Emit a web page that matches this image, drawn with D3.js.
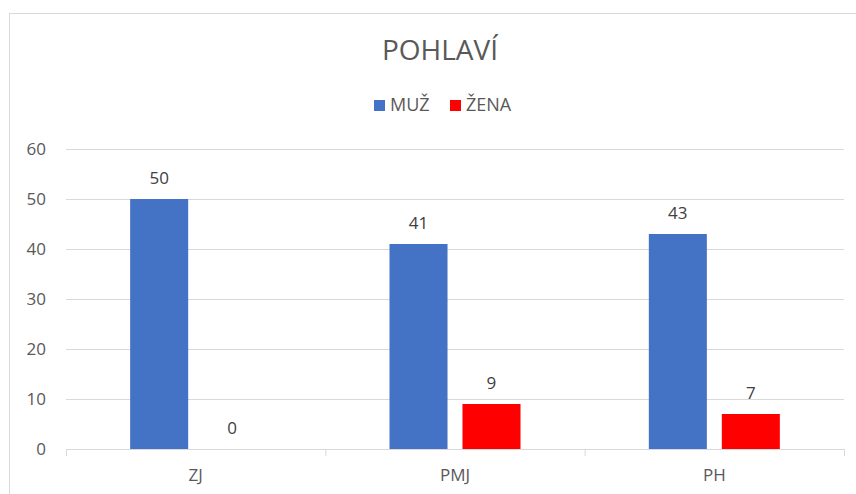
<!DOCTYPE html>
<html>
<head>
<meta charset="utf-8">
<script src="https://cdn.jsdelivr.net/npm/d3@7"></script>
<style>
  body { margin: 0; background: #fff; }
  text { font-family: "Open Sans", sans-serif; }
</style>
</head>
<body>
<svg id="chart" width="856" height="494"></svg>
<script>
// chart data
var categories = ["ZJ", "PMJ", "PH"];
var series = ["MUŽ", "ŽENA"];
var muz = [50, 41, 43];
var zena = [0, 9, 7];
var yTicks = [0, 10, 20, 30, 40, 50, 60];
var colors = ["#4472C4", "#FF0000"];

var data = categories.map(function (c, i) {
    return { cat: c, values: [muz[i], zena[i]] };
});

var svg = d3.select("#chart");

// outer frame
svg.append("rect")
    .attr("x", 9.5).attr("y", 13.5)
    .attr("width", 880).attr("height", 520)
    .attr("fill", "#fff")
    .attr("stroke", "#d9d9d9");

var plotLeft = 66, plotRight = 844, plotTop = 149, plotBottom = 449;

var x0 = d3.scaleBand().domain(categories).range([plotLeft, plotRight]).padding(0);
var x1 = d3.scaleBand().domain(series).range([0, x0.bandwidth()])
    .paddingInner(0.205).paddingOuter(0.879);
var y = d3.scaleLinear().domain([0, 60]).range([plotBottom, plotTop]);

// gridlines
svg.append("g").selectAll("line")
    .data(yTicks.slice(1))
    .enter().append("line")
    .attr("x1", plotLeft).attr("x2", plotRight)
    .attr("y1", function (d) { return y(d) + 0.5; })
    .attr("y2", function (d) { return y(d) + 0.5; })
    .attr("stroke", "#d9d9d9");

// y labels
svg.append("g").selectAll("text")
    .data(yTicks)
    .enter().append("text")
    .attr("x", 46).attr("y", function (d) { return y(d); })
    .attr("dy", "0.35em")
    .attr("text-anchor", "end")
    .attr("font-size", 17)
    .attr("fill", "#595959")
    .text(function (d) { return d; });

// bars
var grp = svg.append("g").selectAll("g")
    .data(data)
    .enter().append("g")
    .attr("transform", function (d) { return "translate(" + x0(d.cat) + ",0)"; });

grp.selectAll("rect")
    .data(function (d) { return d.values; })
    .enter().append("rect")
    .attr("x", function (d, i) { return x1(series[i]); })
    .attr("y", function (d) { return y(d); })
    .attr("width", x1.bandwidth())
    .attr("height", function (d) { return plotBottom - y(d); })
    .attr("fill", function (d, i) { return colors[i]; });

grp.selectAll("text")
    .data(function (d) { return d.values; })
    .enter().append("text")
    .attr("x", function (d, i) { return x1(series[i]) + x1.bandwidth() / 2; })
    .attr("y", function (d) { return y(d) - 15; })
    .attr("text-anchor", "middle")
    .attr("font-size", 17)
    .attr("fill", "#404040")
    .text(function (d) { return d; });

// x axis
svg.append("line")
    .attr("x1", plotLeft).attr("x2", plotRight)
    .attr("y1", plotBottom + 0.5).attr("y2", plotBottom + 0.5)
    .attr("stroke", "#d9d9d9");
svg.append("g").selectAll("line")
    .data(categories.concat(["end"]))
    .enter().append("line")
    .attr("x1", function (d, i) { return plotLeft + i * x0.bandwidth() + 0.5; })
    .attr("x2", function (d, i) { return plotLeft + i * x0.bandwidth() + 0.5; })
    .attr("y1", plotBottom).attr("y2", plotBottom + 7)
    .attr("stroke", "#d9d9d9");
svg.append("g").selectAll("text")
    .data(categories)
    .enter().append("text")
    .attr("x", function (d) { return x0(d) + x0.bandwidth() / 2; })
    .attr("y", 481)
    .attr("text-anchor", "middle")
    .attr("font-size", 17)
    .attr("fill", "#595959")
    .text(function (d) { return d; });

// title
svg.append("text")
    .attr("x", 440).attr("y", 60)
    .attr("text-anchor", "middle")
    .attr("font-size", 28)
    .attr("fill", "#595959")
    .text("POHLAVÍ");

// legend
var legend = svg.append("g").attr("transform", "translate(374,100)");
var lx = [0, 76];
series.forEach(function (s, i) {
    legend.append("rect")
        .attr("x", lx[i]).attr("y", 0)
        .attr("width", 11).attr("height", 11)
        .attr("fill", colors[i]);
    legend.append("text")
        .attr("x", lx[i] + 16).attr("y", 5)
        .attr("dy", "0.35em")
        .attr("font-size", 18)
        .attr("fill", "#595959")
        .text(s);
});
</script>
</body>
</html>
